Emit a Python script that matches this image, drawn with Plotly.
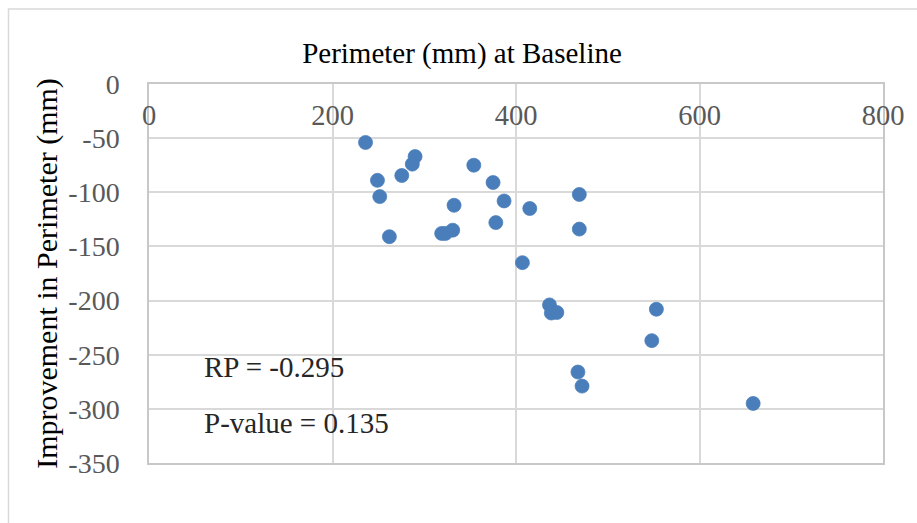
import plotly.graph_objects as go

# Data
baseline_perimeter = [236, 290, 287, 275.5, 249, 251.5, 262, 354, 375, 387, 332.5, 415,
                      469, 469, 378, 319, 323, 331, 407, 436.5, 438.5, 444.5, 553, 548,
                      467.5, 472, 658.5]
improvement = [-54, -67, -74, -84.5, -89, -104, -141, -75, -91, -108, -112, -115,
               -102, -134, -128, -138, -138, -135, -165, -204, -211.5, -211, -208, -237,
               -266, -279, -295]

x_ticks = [0, 200, 400, 600, 800]
y_ticks = [0, -50, -100, -150, -200, -250, -300, -350]

chart_title = "Perimeter (mm) at Baseline"
y_title = "Improvement in Perimeter (mm)"
stats_lines = ["RP = -0.295", "P-value = 0.135"]

FONT = "Liberation Serif"
W, H = 917, 523
L, R, T, B = 149, 34, 84, 60
pw, ph = W - L - R, H - T - B

def px_x(p):
    return (p - L) / pw

def px_y(p):
    return (H - B - p) / ph

fig = go.Figure()
fig.add_trace(go.Scatter(
    x=baseline_perimeter, y=improvement, mode="markers",
    marker=dict(size=14, color="#4A7EBB", line=dict(width=0.75, color="#4A7EBB")),
    showlegend=False, cliponaxis=False,
))

fig.update_layout(
    width=W, height=H,
    margin=dict(l=L, r=R, t=T, b=B, autoexpand=False),
    paper_bgcolor="white", plot_bgcolor="white",
    font=dict(family=FONT, size=29, color="#000000"),
    title=dict(text=chart_title, xref="container", yref="container",
               x=462 / W, y=1 - 53 / H, xanchor="center", yanchor="middle",
               font=dict(family=FONT, size=29, color="#000000")),
    xaxis=dict(
        range=[0, 800], tickvals=x_ticks, ticktext=[str(v) for v in x_ticks],
        side="top", ticklabelposition="inside", ticks="",
        ticklabelstandoff=24, ticklabeloverflow="allow",
        showgrid=True, gridcolor="#d9d9d9", gridwidth=1.5,
        showline=True, linecolor="#c8c8c8", linewidth=1.5, mirror=True,
        zeroline=False,
        tickfont=dict(family=FONT, size=28.5, color="#595959"),
        automargin=False, fixedrange=True,
    ),
    yaxis=dict(
        range=[-350, 0], tickvals=y_ticks, ticktext=[str(v) for v in y_ticks],
        ticks="", ticklabelstandoff=22, ticklabeloverflow="allow",
        showgrid=True, gridcolor="#d9d9d9", gridwidth=1.5,
        showline=True, linecolor="#c8c8c8", linewidth=1.5, mirror=True,
        zeroline=False,
        tickfont=dict(family=FONT, size=28, color="#595959"),
        title=dict(text=y_title, standoff=2,
                   font=dict(family=FONT, size=30, color="#000000")),
        automargin=False, fixedrange=True,
    ),
    shapes=[dict(type="rect", xref="paper", yref="paper",
                 x0=px_x(8.5), x1=px_x(940), y0=px_y(560), y1=px_y(9),
                 line=dict(color="#d9d9d9", width=1.5), fillcolor="rgba(0,0,0,0)",
                 layer="below")],
    annotations=[
        dict(text=stats_lines[0], xref="paper", yref="paper",
             x=px_x(202), y=px_y(367), xanchor="left", yanchor="middle",
             showarrow=False, font=dict(family=FONT, size=29, color="#262626")),
        dict(text=stats_lines[1], xref="paper", yref="paper",
             x=px_x(202), y=px_y(423), xanchor="left", yanchor="middle",
             showarrow=False, font=dict(family=FONT, size=29, color="#262626")),
    ],
)

fig.write_html("out.html", config={"displayModeBar": False})
